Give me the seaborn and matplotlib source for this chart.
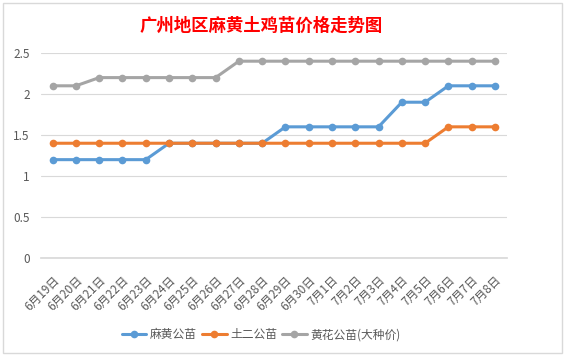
import numpy as np
import pandas as pd
import matplotlib
matplotlib.use("Agg")
import matplotlib.pyplot as plt
import seaborn as sns
from matplotlib.patches import Rectangle

dates = ["6月19日", "6月20日", "6月21日", "6月22日", "6月23日", "6月24日", "6月25日",
         "6月26日", "6月27日", "6月28日", "6月29日", "6月30日", "7月1日", "7月2日",
         "7月3日", "7月4日", "7月5日", "7月6日", "7月7日", "7月8日"]
mahuang = [1.2, 1.2, 1.2, 1.2, 1.2, 1.4, 1.4, 1.4, 1.4, 1.4,
           1.6, 1.6, 1.6, 1.6, 1.6, 1.9, 1.9, 2.1, 2.1, 2.1]
tuer = [1.4, 1.4, 1.4, 1.4, 1.4, 1.4, 1.4, 1.4, 1.4, 1.4,
        1.4, 1.4, 1.4, 1.4, 1.4, 1.4, 1.4, 1.6, 1.6, 1.6]
huanghua = [2.1, 2.1, 2.2, 2.2, 2.2, 2.2, 2.2, 2.2, 2.4, 2.4,
            2.4, 2.4, 2.4, 2.4, 2.4, 2.4, 2.4, 2.4, 2.4, 2.4]
series = ["麻黄公苗", "土二公苗", "黄花公苗(大种价)"]
colors = ["#5B9BD5", "#ED7D31", "#A5A5A5"]

df = pd.DataFrame({"x": list(range(len(dates))) * 3,
                   "price": mahuang + tuer + huanghua,
                   "品种": np.repeat(series, len(dates))})

sns.set_theme(style="white")
plt.rcParams['font.family'] = ['Noto Sans CJK SC', 'DejaVu Sans']

fig = plt.figure(figsize=(5.65, 3.58), dpi=100)
fig.patch.set_facecolor("white")
# chart border
fig.patches.append(Rectangle((0.005, 0.015), 0.99, 0.978, transform=fig.transFigure,
                             fill=False, edgecolor="#D9D9D9", linewidth=1))

ax = fig.add_axes([0.0726, 0.279, 0.824, 0.573])
sns.lineplot(data=df, x="x", y="price", hue="品种", palette=colors, marker="o",
             markersize=5.5, markeredgewidth=0, linewidth=2.2, ax=ax, legend=True)

ax.set_xlim(-0.5, len(dates) - 0.5)
ax.set_ylim(0, 2.5)
ax.set_yticks([0, 0.5, 1, 1.5, 2, 2.5])
ax.set_yticklabels(["0", "0.5", "1", "1.5", "2", "2.5"])
ax.set_xticks(range(len(dates)))
ax.set_xticklabels(dates, rotation=45, ha="right", rotation_mode="anchor")
ax.set_xticks(np.arange(-0.5, len(dates), 1), minor=True)
ax.tick_params(axis="x", which="major", length=0, pad=11, labelsize=8.5, colors="#595959")
ax.tick_params(axis="x", which="minor", length=4, color="#D9D9D9", width=0.8)
ax.tick_params(axis="y", length=0, labelsize=8.5, colors="#595959", pad=8)
ax.grid(axis="y", color="#D9D9D9", linewidth=0.8)
for s in ["top", "right", "left"]:
    ax.spines[s].set_visible(False)
ax.spines["bottom"].set_color("#D9D9D9")
ax.set_xlabel("")
ax.set_ylabel("")

fig.text(0.462, 0.928, "广州地区麻黄土鸡苗价格走势图", color="red", fontsize=12.5,
         fontweight="bold", ha="center", va="center")

handles, labels = ax.get_legend_handles_labels()
ax.legend_.remove()
fig.legend(handles, labels, loc="center", bbox_to_anchor=(0.462, 0.065), ncol=3,
           frameon=False, fontsize=8.5, labelcolor="#595959", handlelength=2.1,
           handletextpad=0.3, columnspacing=0.4)

fig.savefig("out.png", dpi=100)
